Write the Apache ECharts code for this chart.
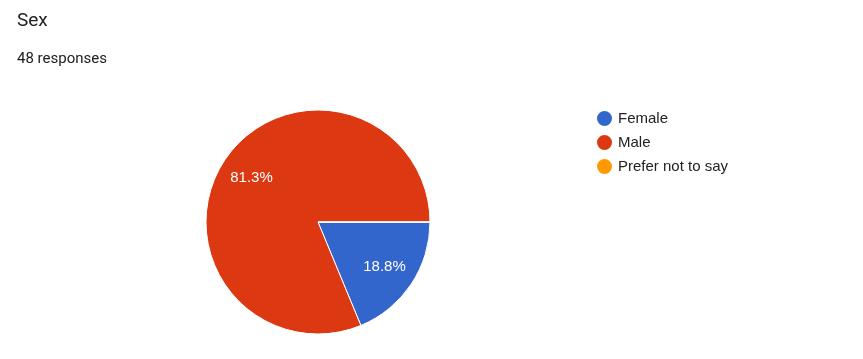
<!DOCTYPE html>
<html><head><meta charset="utf-8">
<script src="https://cdn.jsdelivr.net/npm/echarts@6/dist/echarts.min.js"></script>
<style>html,body{margin:0;padding:0;background:#fff}#c{width:863px;height:359px}</style>
</head><body><div id="c"></div>
<script>
const titleText = "Sex";
const subtitleText = "48 responses";
const categories = ["Female", "Male", "Prefer not to say"];
const counts = [9, 39, 0];
const colors = ["#3366cc", "#dc3912", "#ff9900"];

const data = categories.map((c, i) => ({ name: c, value: counts[i], itemStyle: { color: colors[i] } }));
const total = counts.reduce((a, b) => a + b, 0);
const arial = "'Liberation Sans', Arial, sans-serif";

const chart = echarts.init(document.getElementById('c'), null, { renderer: 'canvas' });
chart.setOption({
  animation: false,
  title: [
    { text: titleText, left: 12, top: 7, textStyle: { fontFamily: 'Roboto', fontSize: 19, fontWeight: 'normal', color: '#202124' } },
    { text: subtitleText, left: 12, top: 47, textStyle: { fontFamily: 'Roboto', fontSize: 15, fontWeight: 'normal', color: '#202124' } }
  ],
  legend: {
    orient: 'vertical', left: 590, top: 104, icon: 'circle',
    itemWidth: 17, itemHeight: 17, itemGap: 5,
    data: categories,
    textStyle: { fontFamily: arial, fontSize: 15, color: '#222' }
  },
  series: [
    {
      type: 'pie', center: [318, 222], radius: [0, 112],
      startAngle: 0, clockwise: true,
      data: data,
      label: { show: false }, labelLine: { show: false },
      itemStyle: { borderColor: '#fff', borderWidth: 1 },
      emphasis: { disabled: true }
    },
    {
      type: 'pie', center: [318, 222], radius: [0, 154],
      startAngle: 0, clockwise: true, silent: true,
      data: data.map(d => ({ name: d.name, value: d.value, itemStyle: { color: 'rgba(0,0,0,0)' } })),
      itemStyle: { borderWidth: 0 },
      label: {
        show: true, position: 'inside', color: '#fff',
        fontFamily: arial, fontSize: 15,
        formatter: p => p.value > 0 ? (p.value / total * 100).toFixed(1) + '%' : ''
      },
      labelLine: { show: false },
      emphasis: { disabled: true }
    }
  ]
});
</script></body></html>
